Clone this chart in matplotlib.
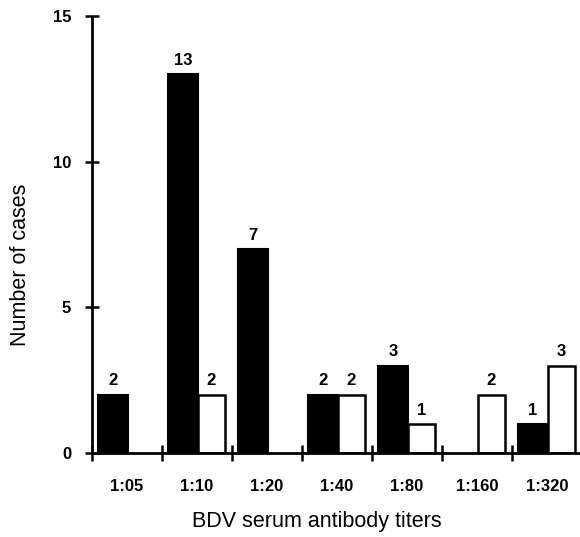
import matplotlib
matplotlib.use("Agg")
import matplotlib.pyplot as plt
import numpy as np

categories = ["1:05", "1:10", "1:20", "1:40", "1:80", "1:160", "1:320"]
black_vals = [2, 13, 7, 2, 3, 0, 1]
white_vals = [0, 2, 0, 2, 1, 2, 3]
y_ticks = [0, 5, 10, 15]

plt.rcParams['font.family'] = ['Liberation Sans', 'DejaVu Sans']

fig = plt.figure(figsize=(5.80, 5.37), dpi=100)
W, H = 580, 537
left_px, right_px, top_px, bottom_px = 92, 582, 16, 453
ax = fig.add_axes([left_px / W, 1 - bottom_px / H, (right_px - left_px) / W, (bottom_px - top_px) / H])

x = np.arange(len(categories))
bw_black = 0.42
bw_white = 0.39
lab_fs = 12
for xi, v in zip(x, black_vals):
    if v > 0:
        ax.bar(xi + 0.09, v, width=bw_black, align='edge', color='black', edgecolor='black', linewidth=1.5)
        ax.text(xi + 0.09 + bw_black / 2, v + 0.32, str(v), ha='center', va='baseline',
                fontsize=lab_fs, fontweight='bold')
for xi, v in zip(x, white_vals):
    if v > 0:
        ax.bar(xi + 0.51, v, width=bw_white, align='edge', color='white', edgecolor='black', linewidth=1.8)
        ax.text(xi + 0.51 + bw_white / 2, v + 0.32, str(v), ha='center', va='baseline',
                fontsize=lab_fs, fontweight='bold')

ax.set_xlim(0, len(categories))
ax.set_ylim(0, 15)
ax.spines['top'].set_visible(False)
ax.spines['right'].set_visible(False)
ax.spines['left'].set_linewidth(2)
ax.spines['bottom'].set_linewidth(2)
ax.spines['left'].set_capstyle('butt')

ax.set_yticks(y_ticks)
ax.set_yticklabels([str(t) for t in y_ticks], fontsize=lab_fs, fontweight='bold')
ax.tick_params(axis='y', direction='inout', length=10, width=1.8, pad=10)

ax.set_xticks(np.arange(len(categories) + 1))
ax.set_xticklabels([])
ax.tick_params(axis='x', which='major', direction='inout', length=12, width=1.8)
ax.set_xticks(x + 0.5, minor=True)
ax.set_xticklabels(categories, minor=True, fontsize=lab_fs, fontweight='bold')
ax.tick_params(axis='x', which='minor', length=0, pad=19)

fig.text(21 / W, 1 - 265 / H, "Number of cases", rotation=90, ha='center', va='center', fontsize=15.5)
fig.text(317 / W, 1 - 522 / H, "BDV serum antibody titers", ha='center', va='center', fontsize=15.5)

for s in ax.spines.values():
    s.set_clip_on(False)

fig.savefig("out.png", dpi=100)
